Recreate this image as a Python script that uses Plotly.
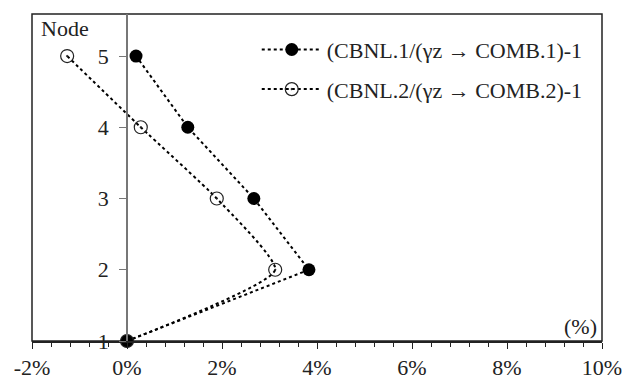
import plotly.graph_objects as go

nodes = [1, 2, 3, 4, 5]
series1_name = "(CBNL.1/(γz → COMB.1)-1"
series1 = [0.0, 3.83, 2.67, 1.28, 0.19]
series2_name = "(CBNL.2/(γz → COMB.2)-1"
series2 = [0.0, 3.12, 1.89, 0.29, -1.26]
xticks = [-2, 0, 2, 4, 6, 8, 10]
xticktext = ["-2%", "0%", "2%", "4%", "6%", "8%", "10%"]

FONT = "Liberation Serif"
FS = 22

fig = go.Figure()
fig.add_trace(go.Scatter(
    x=series1, y=nodes, name=series1_name, mode="lines+markers", cliponaxis=False,
    legendgroup="g1",
    line=dict(color="black", width=2, dash="dot"),
    marker=dict(symbol="circle", size=13, color="black"),
))
fig.add_trace(go.Scatter(
    x=series2, y=nodes, name=series2_name, mode="lines+markers", cliponaxis=False,
    legendgroup="g2",
    line=dict(color="black", width=2, dash="dot", shape="spline", smoothing=0.5),
    marker=dict(symbol="circle-open-dot", size=13, color="#222", line=dict(width=1.2)),
))

fig.update_layout(
    width=624, height=379,
    margin=dict(l=32, r=22, t=14, b=38, autoexpand=False),
    paper_bgcolor="white", plot_bgcolor="white",
    font=dict(family=FONT, size=FS, color="#222"),
    showlegend=True,
    legend=dict(x=0.975, y=0.955, xanchor="right", yanchor="top",
                bgcolor="rgba(0,0,0,0)", font=dict(size=FS, family=FONT),
                itemwidth=60, traceorder="grouped", tracegroupgap=8),
    xaxis=dict(range=[-2, 10], tickvals=xticks, ticktext=xticktext, automargin=False,
               showgrid=False, zeroline=False, showline=True, linecolor="#222",
               linewidth=1.5, ticks="outside", ticklen=6, tickcolor="#222",
               minor=dict(ticks="outside", ticklen=4, dtick=0.4, tickcolor="#222", showgrid=False),
               tickfont=dict(size=FS, family=FONT)),
    yaxis=dict(range=[1, 5.59], tickvals=nodes, showgrid=False, zeroline=False, automargin=False,
               anchor="free", position=1/6, showline=True, linecolor="#777",
               linewidth=1.5, ticks="outside", ticklen=7, tickcolor="#777",
               ticklabelstandoff=6,
               tickfont=dict(size=FS, family=FONT)),
)

fig.add_shape(type="rect", xref="paper", yref="paper", x0=0, x1=1, y0=0, y1=1,
              line=dict(color="#222", width=1.5), layer="below")
fig.add_annotation(text="Node", xref="paper", yref="paper", x=0.012, y=1.0,
                   xanchor="left", yanchor="top", showarrow=False,
                   font=dict(size=FS, family=FONT))
fig.add_annotation(text="(%)", xref="paper", yref="paper", x=0.995, y=0.0,
                   xanchor="right", yanchor="bottom", showarrow=False,
                   font=dict(size=FS, family=FONT))

fig.write_html("out.html")
